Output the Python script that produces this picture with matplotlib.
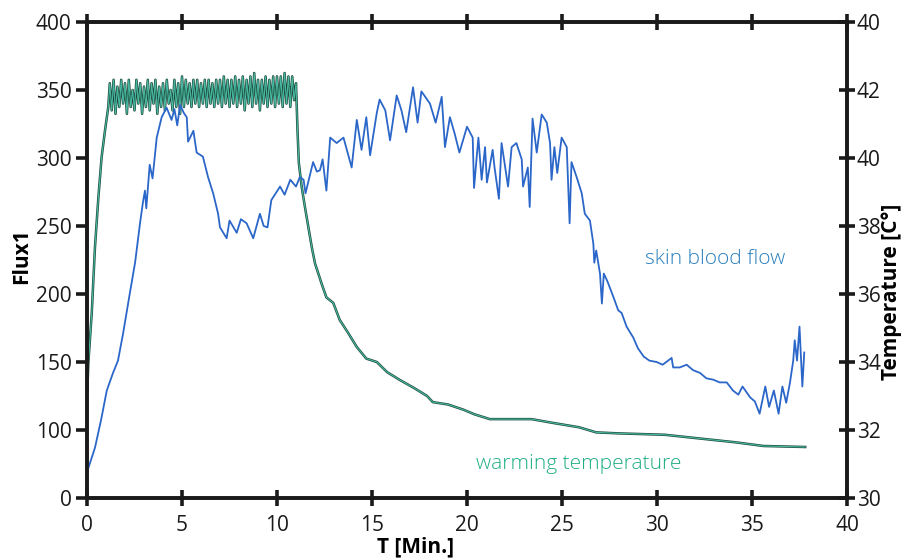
import matplotlib
matplotlib.use('Agg')
import matplotlib.pyplot as plt

plt.rcParams['font.family'] = ['Open Sans', 'DejaVu Sans']

# skin blood flow (Flux1); left axis runs 50..400 but its bottom tick is labelled 0
flow_t = [0.07, 0.42, 0.75, 1.04, 1.37, 1.63, 1.9, 2.26, 2.53, 2.79, 2.95, 3.05, 3.12, 3.3, 3.45,
          3.67, 3.93, 4.19, 4.45, 4.6, 4.75, 4.9, 5.1, 5.25, 5.32, 5.6, 5.77, 6.1, 6.37, 6.64,
          6.9, 7.0, 7.35, 7.5, 7.88, 8.1, 8.4, 8.75, 9.1, 9.3, 9.5, 9.7, 10.16, 10.4, 10.7,
          11.0, 11.2, 11.4, 11.5, 11.9, 12.1, 12.26, 12.4, 12.6, 12.8, 13.14, 13.5, 13.93, 14.2, 14.45,
          14.7, 14.9, 15.25, 15.4, 15.7, 15.95, 16.3, 16.55, 16.8, 17.16, 17.4, 17.6, 18.05, 18.35, 18.67,
          18.84, 19.1, 19.35, 19.6, 20.0, 20.3, 20.37, 20.6, 20.77, 20.95, 21.05, 21.35, 21.45, 21.68, 21.82,
          22.16, 22.35, 22.6, 22.88, 22.95, 23.2, 23.3, 23.45, 23.67, 23.93, 24.2, 24.37, 24.45, 24.6, 24.75,
          24.98, 25.25, 25.4, 25.5, 25.77, 26.04, 26.2, 26.47, 26.65, 26.7, 26.8, 27.0, 27.1, 27.2, 27.4,
          27.7, 27.96, 28.14, 28.4, 28.75, 29.0, 29.3, 29.6, 29.98, 30.3, 30.77, 30.85, 31.2, 31.56, 31.9,
          32.26, 32.6, 32.96, 33.3, 33.67, 34.0, 34.28, 34.5, 34.9, 35.15, 35.4, 35.7, 35.9, 36.15, 36.4,
          36.6, 36.8, 37.0, 37.17, 37.25, 37.37, 37.5, 37.65, 37.75]
flow = [72, 87, 108, 129, 142, 151, 171, 201, 223, 252, 268, 276, 263, 295, 285,
        315, 330, 337, 328, 336, 324, 339, 333, 330, 312, 320, 304, 301, 286, 274,
        259, 249, 241, 254, 245, 255, 252, 241, 259, 250, 249, 269, 279, 273, 284,
        279, 286, 284, 274, 297, 290, 291, 299, 276, 315, 311, 315, 293, 328, 306,
        330, 302, 333, 343, 335, 313, 346, 335, 319, 352, 326, 349, 340, 326, 345,
        308, 330, 318, 304, 323, 315, 278, 315, 284, 308, 282, 306, 293, 270, 311,
        279, 308, 311, 299, 279, 293, 264, 329, 304, 332, 326, 311, 284, 308, 289,
        315, 308, 252, 297, 286, 274, 259, 254, 237, 223, 232, 215, 193, 215, 209,
        198, 188, 186, 176, 168, 160, 154, 151, 150, 148, 153, 146, 146, 148, 144,
        142, 138, 137, 135, 135, 129, 126, 132, 124, 121, 112, 132, 117, 129, 112,
        132, 120, 135, 151, 166, 151, 176, 132, 157]

# warming temperature (deg C)
warm_t = [0.02, 0.07, 0.25, 0.42, 0.6, 0.77, 0.95, 1.12,
          1.2, 1.3, 1.4, 1.5, 1.6, 1.7, 1.8, 1.9, 2.0, 2.1, 2.2, 2.3, 2.4, 2.5, 2.6, 2.7, 2.8, 2.9,
          3.0, 3.1, 3.2, 3.3, 3.4, 3.5, 3.6, 3.7, 3.8, 3.9, 4.0, 4.1, 4.2, 4.3, 4.4, 4.5, 4.6, 4.7,
          4.8, 4.9, 5.0, 5.1, 5.2, 5.3, 5.4, 5.5, 5.6, 5.7, 5.8, 5.9, 6.0, 6.1, 6.2, 6.3, 6.4, 6.5,
          6.6, 6.7, 6.8, 6.9, 7.0, 7.1, 7.2, 7.3, 7.4, 7.5, 7.6, 7.7, 7.8, 7.9, 8.0, 8.1, 8.2, 8.3,
          8.4, 8.5, 8.6, 8.7, 8.8, 8.9, 9.0, 9.1, 9.2, 9.3, 9.4, 9.5, 9.6, 9.7, 9.8, 9.9, 10.0, 10.1,
          10.2, 10.3, 10.4, 10.5, 10.6, 10.7, 10.8, 10.9, 11.0,
          11.08, 11.15, 11.3, 11.47, 11.65, 11.83, 12.0, 12.35, 12.6, 12.96, 13.3, 13.75, 14.2, 14.7,
          15.25, 15.8, 16.47, 17.2, 17.9, 18.2, 19.0, 19.8, 20.4, 21.2, 23.4, 24.4, 25.9, 26.8, 28.0,
          30.4, 31.9, 34.1, 35.6, 37.8]
warm_temp = [33.18, 33.97, 35.44, 37.38, 38.85, 40.03, 40.82, 41.5,
             42.2, 41.4, 42.3, 41.3, 42.1, 41.5, 42.3, 41.6, 42.2, 41.3, 42.3, 41.5, 42.0, 41.4, 42.3, 41.6, 42.2, 41.3,
             42.1, 41.5, 42.3, 41.4, 42.2, 41.6, 42.3, 41.3, 42.1, 41.5, 42.2, 41.4, 42.3, 41.6, 42.0, 41.4, 42.3, 41.5,
             42.2, 41.3, 42.4, 41.5, 42.3, 41.6, 42.2, 41.5, 42.3, 41.6, 42.3, 41.5, 42.2, 41.6, 42.3, 41.5, 42.3, 41.6,
             42.2, 41.5, 42.3, 41.6, 42.3, 41.5, 42.4, 41.6, 42.3, 41.5, 42.3, 41.6, 42.4, 41.5, 42.3, 41.6, 42.4, 41.4,
             42.3, 41.6, 42.4, 41.5, 42.5, 41.6, 42.3, 41.4, 42.3, 41.6, 42.4, 41.5, 42.3, 41.6, 42.4, 41.5, 42.4, 41.6,
             42.4, 41.5, 42.5, 41.6, 42.4, 41.5, 42.4, 41.7, 42.2,
             40.8, 39.85, 39.15, 38.56, 37.97, 37.38, 36.9, 36.3, 35.9, 35.74, 35.24, 34.85, 34.44, 34.1,
             34.0, 33.7, 33.47, 33.24, 33.0, 32.82, 32.75, 32.6, 32.46, 32.32, 32.32, 32.22, 32.08, 31.93, 31.9,
             31.86, 31.77, 31.64, 31.53, 31.5]

x_ticks = [0, 5, 10, 15, 20, 25, 30, 35, 40]
flux_ticks = [50, 100, 150, 200, 250, 300, 350, 400]
flux_labels = ['0', '100', '150', '200', '250', '300', '350', '400']
temp_ticks = [30, 32, 34, 36, 38, 40, 42, 44]
temp_labels = ['30', '32', '34', '36', '38', '40', '42', '40']

fig = plt.figure(figsize=(9.04, 5.58), dpi=100)
ax = fig.add_axes([87 / 904, 60 / 558, 760 / 904, 476 / 558])
ax2 = ax.twinx()
ax2.set_facecolor('#f8f9fd')
ax.set_zorder(ax2.get_zorder() + 1)
ax.patch.set_visible(False)

ax2.plot(warm_t, warm_temp, color='#1d4a3a', lw=1.8)
ax2.plot(warm_t, warm_temp, color='#47b8a2', lw=0.8)
ax.plot(flow_t, flow, color='#2b66c9', lw=1.3)

ax.set_xlim(0, 40)
ax.set_ylim(50, 400)
ax2.set_ylim(30, 44)
ax.set_xticks(x_ticks)
ax.set_yticks(flux_ticks)
ax.set_yticklabels(flux_labels)
ax2.set_yticks(temp_ticks)
ax2.set_yticklabels(temp_labels)

for a in (ax, ax2):
    for s in a.spines.values():
        s.set_linewidth(2.6)
        s.set_color('#1a1a1a')

ax.tick_params(axis='y', direction='out', length=8, width=2.6, labelsize=15, pad=3, colors='#1a1a1a')
ax.tick_params(axis='x', direction='inout', length=12, width=2.6, top=True, labelsize=15, pad=6, colors='#1a1a1a')
ax2.tick_params(axis='y', direction='inout', length=12, width=2.6, labelsize=15, pad=1, colors='#1a1a1a')

ax.text(33.05, 226, 'skin blood flow', color='#2a7fbd', fontsize=15, fontweight='light',
        ha='center', va='center')
ax.text(25.9, 75, 'warming temperature', color='#1fae84', fontsize=15, fontweight='light',
        ha='center', va='center')

fig.text(22 / 904, 1 - 256 / 558, 'Flux1', rotation=90, fontsize=15, fontweight='bold', ha='center', va='center')
fig.text(416 / 904, 1 - 547 / 558, 'T [Min.]', fontsize=15, fontweight='bold', ha='center', va='center')
fig.text(892 / 904, 1 - 292 / 558, 'Temperature [C°]', rotation=90, fontsize=15, fontweight='bold',
         ha='center', va='center')

fig.savefig('out.png', dpi=100)
